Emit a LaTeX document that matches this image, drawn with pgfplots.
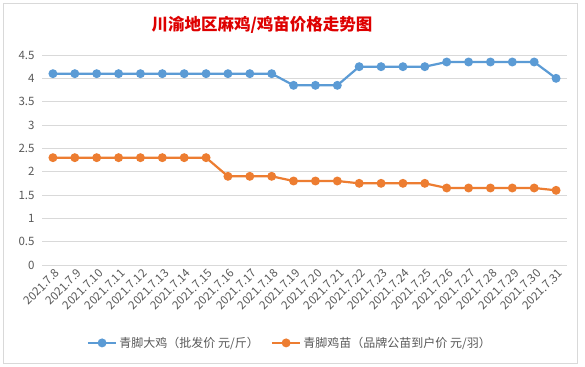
\documentclass[border=0pt]{standalone}
\usepackage{pgfplots}
\pgfplotsset{compat=1.18}
\usepackage{fontspec}
\setmainfont{Noto Sans CJK SC}
\definecolor{blueS}{HTML}{5B9BD5}
\definecolor{orangeS}{HTML}{ED7D31}
\definecolor{gridc}{HTML}{D9D9D9}
\definecolor{txt}{HTML}{595959}
\definecolor{titlec}{RGB}{222,0,0}
\begin{document}
\begin{tikzpicture}[x=1pt,y=1pt]
\fill[white] (0,0) rectangle (585,366);
\draw[gridc] (3,3) rectangle (577,363);
\node[text=titlec,font=\fontsize{16.5}{18}\selectfont\bfseries] at (262,341) {川渝地区麻鸡/鸡苗价格走势图};
\begin{axis}[
  at={(42pt,101pt)}, anchor=south west,
  scale only axis, width=525pt, height=210pt,
  xmin=-0.5, xmax=23.5, ymin=0, ymax=4.5,
  ytick={0,0.5,...,4.5},
  xtick={0,...,23},
  xticklabels={2021.7.8,2021.7.9,2021.7.10,2021.7.11,2021.7.12,2021.7.13,2021.7.14,2021.7.15,2021.7.16,2021.7.17,2021.7.18,2021.7.19,2021.7.20,2021.7.21,2021.7.22,2021.7.23,2021.7.24,2021.7.25,2021.7.26,2021.7.27,2021.7.28,2021.7.29,2021.7.30,2021.7.31},
  /pgf/number format/assume math mode=true,
  /pgf/number format/fixed,
  axis line style={draw=none},
  major tick length=0pt,
  ymajorgrids, grid style={gridc, line width=0.8pt},
  yticklabel style={font=\fontsize{11.5}{12}\selectfont, text=txt, xshift=-4pt},
  xticklabel style={font=\fontsize{11.5}{12}\selectfont, text=txt, rotate=45, anchor=north east, inner sep=1pt, yshift=-2pt},
  legend style={at={(0.472,-0.371)}, anchor=center, draw=none, font=\fontsize{12}{13}\selectfont, text=txt, legend columns=2, /tikz/every even column/.append style={column sep=10pt}},
  legend image code/.code={\draw[mark repeat=2,mark phase=2,#1] plot coordinates {(0cm,0cm) (0.5cm,0cm) (1cm,0cm)};},
  every axis plot/.append style={line width=2.2pt, mark=*, mark size=3.3pt, mark options={solid}},
]
\addplot[color=blueS] coordinates {
(0,4.1)(1,4.1)(2,4.1)(3,4.1)(4,4.1)(5,4.1)(6,4.1)(7,4.1)(8,4.1)(9,4.1)(10,4.1)
(11,3.85)(12,3.85)(13,3.85)
(14,4.25)(15,4.25)(16,4.25)(17,4.25)
(18,4.35)(19,4.35)(20,4.35)(21,4.35)(22,4.35)
(23,4.0)};
\addlegendentry{青脚大鸡（批发价 元/斤）}
\addplot[color=orangeS] coordinates {
(0,2.3)(1,2.3)(2,2.3)(3,2.3)(4,2.3)(5,2.3)(6,2.3)(7,2.3)
(8,1.9)(9,1.9)(10,1.9)
(11,1.8)(12,1.8)(13,1.8)
(14,1.75)(15,1.75)(16,1.75)(17,1.75)
(18,1.65)(19,1.65)(20,1.65)(21,1.65)(22,1.65)
(23,1.6)};
\addlegendentry{青脚鸡苗（品牌公苗到户价 元/羽）}
\end{axis}
\end{tikzpicture}
\end{document}
